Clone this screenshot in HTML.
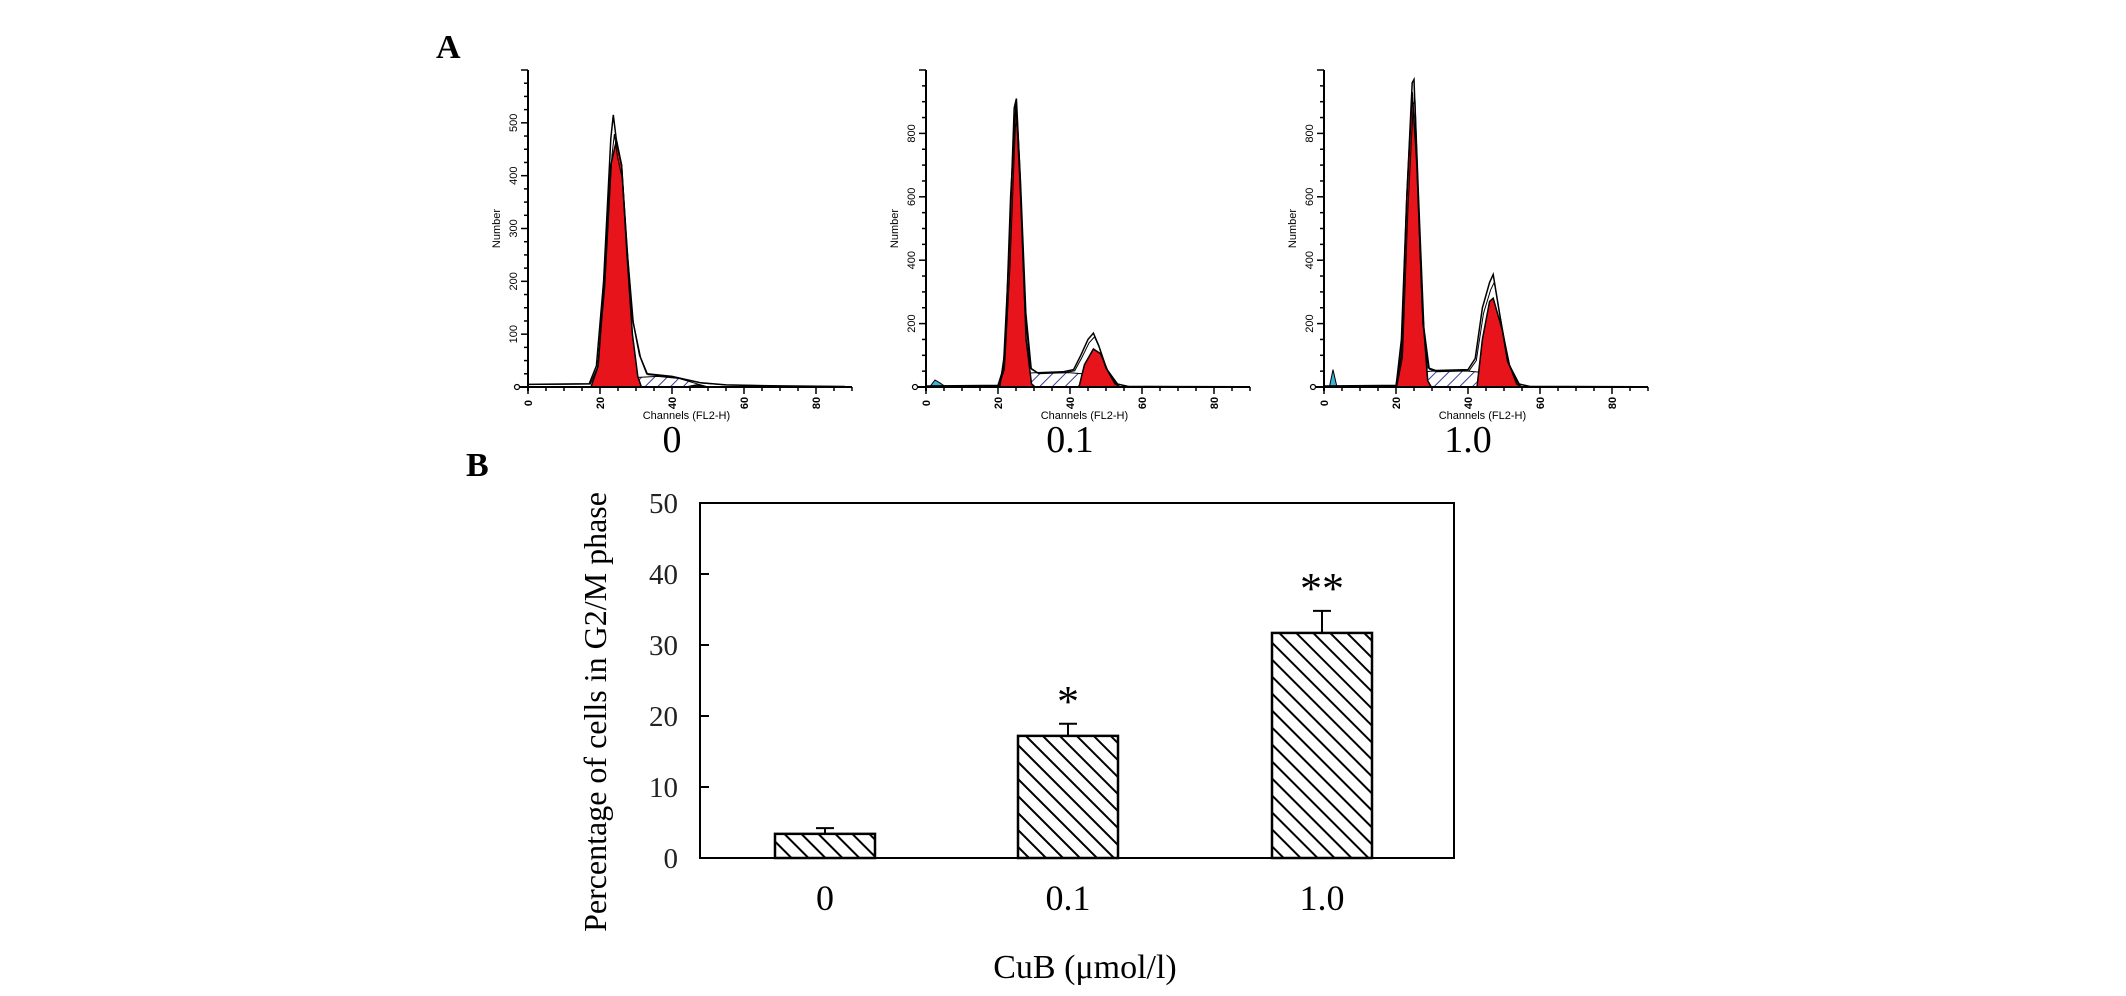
<!DOCTYPE html>
<html><head><meta charset="utf-8">
<style>
html,body{margin:0;padding:0;background:#fff;}
svg{display:block;}
text{font-family:"Liberation Serif",serif;}
.sm{font-family:"Liberation Sans",sans-serif;font-size:11px;}
</style></head>
<body>
<svg id="fig" width="2126" height="996" viewBox="0 0 2126 996" xmlns="http://www.w3.org/2000/svg">
<defs>
<pattern id="hatchS" patternUnits="userSpaceOnUse" width="9" height="9" patternTransform="rotate(45)">
<rect width="9" height="9" fill="#fff"/><line x1="0" y1="0" x2="0" y2="9" stroke="#3a3a9a" stroke-width="2"/></pattern>
<pattern id="hatchBar" patternUnits="userSpaceOnUse" width="12" height="12" patternTransform="rotate(-45)">
<rect width="12" height="12" fill="#fff"/><line x1="0" y1="0" x2="0" y2="12" stroke="#000" stroke-width="4"/></pattern>
</defs>
<text x="436" y="58" font-size="34" font-weight="bold">A</text>
<text x="466" y="476" font-size="34" font-weight="bold">B</text>
<g id="hists"></g>
<g id="bars"></g>
</svg>
<script>
// ---------- Panel A histograms (channel, count) ----------
const histLabels = ["0", "0.1", "1.0"];
const histYMax = [600, 1000, 1000];
const histYStep = [100, 200, 200];
const g1_0 = [[17.5,0],[19.5,40],[21.5,230],[23,420],[24.5,465],[26,420],[27.5,250],[29,100],[30.5,20],[31.5,0]];
const g2_0 = [[44,0],[47,4],[50,0]];
const s_0 = [[22,0],[26,12],[30,18],[36,20],[42,16],[46,8],[50,0]];
const out_0 = [[0,5],[17,6],[19,40],[21,200],[23,470],[23.7,515],[24.5,470],[26,420],[27.5,260],[29,130],[31,60],[33,25],[40,20],[44,14],[48,8],[55,4],[70,2],[88,1]];
const deb_0 = [[0,0],[0,0]];
const g1_1 = [[20.5,0],[22,120],[23.5,600],[25,900],[26.3,600],[27.8,150],[29.3,10],[30.3,0]];
const g2_1 = [[42.5,0],[44,70],[46.5,120],[48.5,105],[50.5,50],[52.5,10],[54,0]];
const s_1 = [[21.5,0],[26,40],[30,45],[40,45],[45,40],[49,15],[52,0]];
const out_1 = [[0,3],[20,5],[21.5,60],[23,400],[24.5,880],[25.1,910],[26,700],[27.5,250],[29,60],[31,45],[38,48],[41,55],[43,100],[45,150],[46.5,170],[48,130],[50,60],[53,10],[56,2],[88,1]];
const deb_1 = [[1,0],[2.5,22],[4,12],[5.5,0]];
const g1_2 = [[20,0],[21.5,150],[23,600],[24.5,930],[25.8,700],[27.3,250],[28.8,20],[29.8,0]];
const g2_2 = [[42.5,0],[44,150],[46,270],[47,280],[49.5,180],[51.5,70],[53.5,10],[55,0]];
const s_2 = [[21,0],[25,45],[30,50],[40,50],[45,45],[49,20],[52,0]];
const out_2 = [[0,3],[20,5],[21.5,100],[23,600],[24.5,960],[25,970],[26,650],[27.5,200],[29,60],[31,52],[40,55],[42,90],[44,250],[46,330],[47,355],[48.5,250],[51,80],[54,10],[57,2],[88,1]];
const deb_2 = [[1.5,0],[2.5,55],[3.5,5],[4.5,0]];

const histG1 = [g1_0, g1_1, g1_2];
const histG2 = [g2_0, g2_1, g2_2];
const histS = [s_0, s_1, s_2];
const histOut = [out_0, out_1, out_2];
const histDeb = [deb_0, deb_1, deb_2];

// ---------- Panel B bar chart ----------
const barCats = ["0", "0.1", "1.0"];
const barVals = [3.4, 17.2, 31.7];
const barErr = [0.8, 1.7, 3.1];
const barSig = ["", "*", "**"];
const yTicks = [0, 10, 20, 30, 40, 50];

const NS = "http://www.w3.org/2000/svg";
function mk(tag, attrs, parent){const e=document.createElementNS(NS,tag);for(const k in attrs)e.setAttribute(k,attrs[k]);parent.appendChild(e);return e;}

const hg = document.getElementById('hists');
const panelX0 = [528, 926, 1324];
const base = 387;
const axTop = 70;
for (let p=0;p<3;p++){
  const x0 = panelX0[p];
  const xs = ch => x0 + ch*3.6;
  const ys = v => base - v*(base-axTop)/histYMax[p];
  const g = mk('g',{},hg);
  
  
  const poly = (pts, attrs, name) => {
    const d = pts.map(q=>xs(q[0]).toFixed(1)+','+ys(q[1]).toFixed(1)).join(' ');
    const e = mk('polygon', Object.assign({points:d}, attrs), g);
    
    
  };
  poly(histS[p], {fill:'url(#hatchS)', stroke:'#000','stroke-width':1}, 's-phase-area');
  poly(histG1[p], {fill:'#e8141c', stroke:'#000','stroke-width':1.5}, 'g1-peak');
  poly(histG2[p], {fill:'#e8141c', stroke:'#000','stroke-width':1.5}, 'g2-peak');
  poly(histDeb[p], {fill:'#3bb4d8', stroke:'#000','stroke-width':1}, 'debris-peak');
  const od = histOut[p].map(q=>xs(q[0]).toFixed(1)+','+ys(q[1]).toFixed(1)).join(' ');
  const ol = mk('polyline',{points:od, fill:'none', stroke:'#000','stroke-width':1.5},g);
  
  
  const od2 = histOut[p].map(q=>xs(q[0]+0.3).toFixed(1)+','+ys(q[1]*0.93).toFixed(1)).join(' ');
  const ol2 = mk('polyline',{points:od2, fill:'none', stroke:'#000','stroke-width':1},g);
  
  
  mk('line',{x1:x0,y1:axTop,x2:x0,y2:base+4,stroke:'#000','stroke-width':2},g);
  mk('line',{x1:x0-8,y1:base,x2:xs(90),y2:base,stroke:'#000','stroke-width':2},g);
  mk('circle',{cx:x0-11,cy:base,r:2.5,fill:'none',stroke:'#000','stroke-width':1.2},g);
  for (let v=0; v<=histYMax[p]; v+=histYStep[p]/4){
    const major = (v % histYStep[p])===0;
    mk('line',{x1:x0-(major?7:4),y1:ys(v),x2:x0,y2:ys(v),stroke:'#000','stroke-width':1.5},g);
    if (major && v>0 && ys(v) > axTop+20){
      const t = mk('text',{class:'sm',x:0,y:0,'text-anchor':'middle',transform:`translate(${x0-11},${ys(v)}) rotate(-90)`},g);
      t.textContent = v;
      
      
    }
  }
  for (let c=0;c<=90;c+=5){
    const major = c%20===0;
    mk('line',{x1:xs(c),y1:base,x2:xs(c),y2:base+(major?7:4),stroke:'#000','stroke-width':1.5},g);
    if (major){
      const t = mk('text',{class:'sm',x:0,y:0,'text-anchor':'middle',transform:`translate(${xs(c)+4},${base+16}) rotate(-90)`,'font-size':9,'font-weight':'bold'},g);
      t.textContent = c;
      
      
    }
  }
  const yl = mk('text',{class:'sm',x:0,y:0,'text-anchor':'middle',transform:`translate(${x0-28},${ys(histYMax[p]*0.5)}) rotate(-90)`},g);
  yl.textContent='Number';
  
  
  const xl = mk('text',{class:'sm',x:xs(44),y:base+32,'text-anchor':'middle'},g);
  xl.textContent='Channels (FL2-H)';
  
  
  const cl = mk('text',{x:xs(40),y:452,'text-anchor':'middle','font-size':38},g);
  cl.textContent=histLabels[p];
  
  
}

const bg = document.getElementById('bars');
const L=700, R=1454, T=503, B=858;
const yb = v => B - (v/50)*(B-T);
const xc = i => [825, 1068, 1322][i];
const bw = 100;
const frame = mk('rect',{x:L,y:T,width:R-L,height:B-T,fill:'none',stroke:'#000','stroke-width':2},bg);


yTicks.forEach(v=>{
  mk('line',{x1:L,y1:yb(v),x2:L+9,y2:yb(v),stroke:'#000','stroke-width':2},bg);
  const t = mk('text',{x:L-22,y:yb(v)+10,'text-anchor':'end','font-size':29,fill:'#222'},bg);
  t.textContent=v;
  
  
});
barVals.forEach((v,i)=>{
  const r = mk('rect',{x:xc(i)-bw/2,y:yb(v),width:bw,height:B-yb(v),fill:'url(#hatchBar)',stroke:'#000','stroke-width':2.5},bg);
  
  
  const e = barErr[i];
  const el = mk('path',{d:`M${xc(i)},${yb(v)} V${yb(v+e)} M${xc(i)-9},${yb(v+e)} H${xc(i)+9}`,stroke:'#000','stroke-width':2,fill:'none'},bg);
  
  
  if (barSig[i]){
    const s = mk('text',{x:xc(i),y:yb(v+e)-8,'text-anchor':'middle','font-size':44},bg);
    s.textContent=barSig[i];
    
    
  }
  const c = mk('text',{x:xc(i),y:910,'text-anchor':'middle','font-size':36},bg);
  c.textContent=barCats[i];
  
  
});
const yt = mk('text',{x:0,y:0,'text-anchor':'middle','font-size':32,transform:'translate(606,712) rotate(-90)'},bg);
yt.textContent='Percentage of cells in G2/M phase';


const xt = mk('text',{x:1085,y:978,'text-anchor':'middle','font-size':34},bg);
xt.textContent='CuB (μmol/l)';


</script>
</body></html>
